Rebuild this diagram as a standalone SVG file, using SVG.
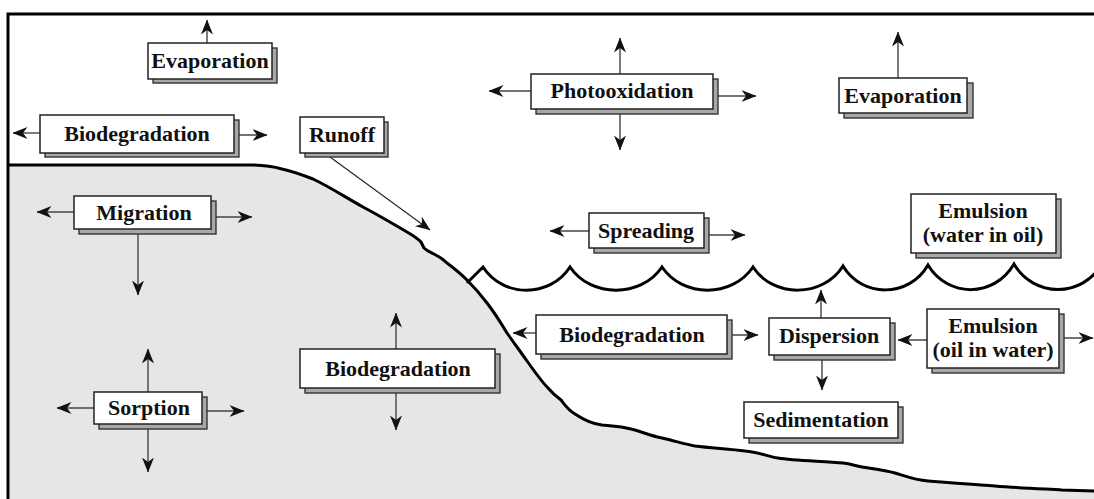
<svg xmlns="http://www.w3.org/2000/svg" width="1094" height="499" viewBox="0 0 1094 499">
<defs>
<style>
.sh{fill:#a8a8a8;stroke:#333;stroke-width:1.4}
.bx{fill:#fff;stroke:#222;stroke-width:1.5}
.t{font-family:"Liberation Serif","Times New Roman",serif;font-weight:bold;font-size:22px;fill:#111;text-anchor:middle}
.c{fill:none;stroke:#444;stroke-width:1.4;marker-end:url(#ah)}
.bold{fill:none;stroke:#000;stroke-width:3}
</style>
<marker id="ah" viewBox="0 0 15 12" refX="14.5" refY="6" markerWidth="15" markerHeight="12" markerUnits="userSpaceOnUse" orient="auto">
<path d="M0,0 L15,6 L0,12 L4.5,6 Z" fill="#111"/>
</marker>
</defs>
<rect x="0" y="0" width="1094" height="499" fill="#fff"/>
<g id="ground">
<path d="M8 165 L250 165 C265 165 275 167 282 169 C292 171 300 174 313 179 C330 187 345 197 363 207 C380 216 395 225 407 232 C414 236 418 239 421 242 L424 248 C427 251 430 252 434 254 C440 257 444 260 447 263 C455 269 461 274 467 280 C474 287 481 295 487 303 C494 312 501 323 507 333 C514 343 520 351 527 361 C535 372 541 381 548 388 C553 394 557 397 561 400 C565 405 568 410 575 414 C584 420 592 424 602 425 C615 426 625 427 635 430 C645 433 652 436 662 438 C675 441 685 444 695 446 C710 448 730 449 745 451 C758 452 766 456 778 458 C795 461 825 461 843 463 C852 464 855 466 862 467 C875 469 885 470 895 473 C905 476 915 480 928 481 C950 483 975 484 995 486 C1020 488 1045 489 1062 490 L1094 491 L1094 499 L8 499 Z" fill="#e6e6e6" stroke="none"/>
<path class="bold" d="M8 165 L250 165 C265 165 275 167 282 169 C292 171 300 174 313 179 C330 187 345 197 363 207 C380 216 395 225 407 232 C414 236 418 239 421 242 L424 248 C427 251 430 252 434 254 C440 257 444 260 447 263 C455 269 461 274 467 280 C474 287 481 295 487 303 C494 312 501 323 507 333 C514 343 520 351 527 361 C535 372 541 381 548 388 C553 394 557 397 561 400 C565 405 568 410 575 414 C584 420 592 424 602 425 C615 426 625 427 635 430 C645 433 652 436 662 438 C675 441 685 444 695 446 C710 448 730 449 745 451 C758 452 766 456 778 458 C795 461 825 461 843 463 C852 464 855 466 862 467 C875 469 885 470 895 473 C905 476 915 480 928 481 C950 483 975 484 995 486 C1020 488 1045 489 1062 490 L1094 491"/>
</g>
<g id="water-surface">
<path class="bold" d="M467 283 L483 267 C503 298 550 298 570 267 C591 298 641 298 662 267 C683 298 732 298 753 267 C773 298 823 298 843 266 C862 298 909 298 928 265 C948 298 994 298 1014 264 C1034 298 1082 298 1102 264"/>
</g>
<g id="frame">
<path class="bold" d="M8 499 L8 14 L1094 14"/>
</g>
<g id="connectors">
<line class="c" x1="207" y1="50" x2="207" y2="20"/>
<line class="c" x1="45" y1="133" x2="13" y2="133"/>
<line class="c" x1="230" y1="135" x2="267" y2="135"/>
<line x1="330" y1="157" x2="430" y2="230" stroke="#222" stroke-width="1.1" marker-end="url(#ah)"/>
<line class="c" x1="620" y1="80" x2="620" y2="38"/>
<line class="c" x1="620" y1="105" x2="620" y2="150"/>
<line class="c" x1="540" y1="91" x2="489" y2="91"/>
<line class="c" x1="710" y1="96" x2="756" y2="96"/>
<line class="c" x1="898" y1="85" x2="898" y2="32"/>
<line class="c" x1="80" y1="212" x2="37" y2="212"/>
<line class="c" x1="205" y1="217" x2="252" y2="217"/>
<line class="c" x1="138" y1="215" x2="138" y2="295"/>
<line class="c" x1="595" y1="231" x2="550" y2="231"/>
<line class="c" x1="700" y1="235" x2="745" y2="235"/>
<line class="c" x1="545" y1="333" x2="513" y2="333"/>
<line class="c" x1="725" y1="335" x2="758" y2="335"/>
<line class="c" x1="821" y1="325" x2="821" y2="290"/>
<line class="c" x1="822" y1="350" x2="822" y2="390"/>
<line class="c" x1="935" y1="340" x2="898" y2="340"/>
<line class="c" x1="1055" y1="338" x2="1093" y2="338"/>
<line class="c" x1="148" y1="400" x2="148" y2="349"/>
<line class="c" x1="148" y1="410" x2="148" y2="472"/>
<line class="c" x1="100" y1="408" x2="57" y2="408"/>
<line class="c" x1="195" y1="411" x2="244" y2="411"/>
<line class="c" x1="396" y1="360" x2="396" y2="313"/>
<line class="c" x1="396" y1="380" x2="396" y2="430"/>
</g>
<g id="evaporation-1"><rect class="sh" x="153" y="48" width="124" height="35"/><rect class="bx" x="148" y="43" width="124" height="36"/><text class="t" x="210" y="68">Evaporation</text></g>
<g id="biodegradation-air"><rect class="sh" x="45" y="120" width="194" height="37"/><rect class="bx" x="40" y="115" width="194" height="38"/><text class="t" x="137" y="141">Biodegradation</text></g>
<g id="runoff"><rect class="sh" x="305" y="122" width="83" height="35"/><rect class="bx" x="300" y="117" width="84" height="36"/><text class="t" x="342" y="142">Runoff</text></g>
<g id="photooxidation"><rect class="sh" x="536" y="79" width="182" height="35"/><rect class="bx" x="531" y="74" width="182" height="35"/><text class="t" x="622" y="98">Photooxidation</text></g>
<g id="evaporation-2"><rect class="sh" x="844" y="83" width="129" height="35"/><rect class="bx" x="839" y="78" width="128" height="35"/><text class="t" x="903" y="103">Evaporation</text></g>
<g id="migration"><rect class="sh" x="79" y="201" width="137" height="33"/><rect class="bx" x="74" y="196" width="137" height="33"/><text class="t" x="144" y="220">Migration</text></g>
<g id="spreading"><rect class="sh" x="594" y="218" width="115" height="35"/><rect class="bx" x="589" y="213" width="115" height="35"/><text class="t" x="646" y="238">Spreading</text></g>
<g id="emulsion-water-in-oil"><rect class="sh" x="916" y="199" width="145" height="59"/><rect class="bx" x="911" y="194" width="145" height="59"/><text class="t" x="983" y="218">Emulsion</text><text class="t" x="983" y="242">(water in oil)</text></g>
<g id="biodegradation-water"><rect class="sh" x="541" y="320" width="191" height="39"/><rect class="bx" x="536" y="315" width="191" height="39"/><text class="t" x="632" y="342">Biodegradation</text></g>
<g id="dispersion"><rect class="sh" x="774" y="323" width="121" height="37"/><rect class="bx" x="769" y="318" width="121" height="37"/><text class="t" x="829" y="343">Dispersion</text></g>
<g id="emulsion-oil-in-water"><rect class="sh" x="932" y="314" width="132" height="59"/><rect class="bx" x="927" y="309" width="132" height="59"/><text class="t" x="993" y="333">Emulsion</text><text class="t" x="993" y="357">(oil in water)</text></g>
<g id="sedimentation"><rect class="sh" x="749" y="407" width="154" height="36"/><rect class="bx" x="744" y="402" width="154" height="36"/><text class="t" x="821" y="427">Sedimentation</text></g>
<g id="sorption"><rect class="sh" x="99" y="397" width="108" height="32"/><rect class="bx" x="94" y="392" width="108" height="32"/><text class="t" x="149" y="415">Sorption</text></g>
<g id="biodegradation-land"><rect class="sh" x="305" y="354" width="195" height="39"/><rect class="bx" x="300" y="349" width="195" height="39"/><text class="t" x="398" y="376">Biodegradation</text></g>
</svg>
